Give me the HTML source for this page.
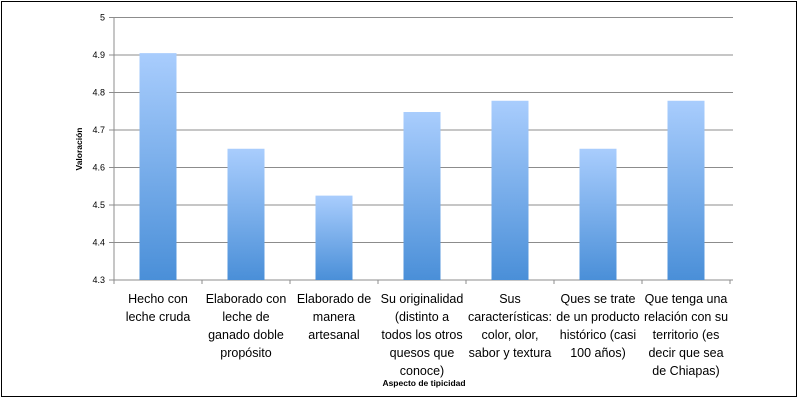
<!DOCTYPE html>
<html><head><meta charset="utf-8"><style>
body{margin:0;background:#fff;font-family:"Liberation Sans",sans-serif}
#wrap{position:relative;width:799px;height:402px;overflow:hidden}
.frame{position:absolute;left:1px;top:1px;width:794px;height:394px;border:1px solid #000}
</style></head><body>
<div id="wrap">
<div class="frame"></div>
<svg id="svg" width="799" height="402" style="position:absolute;left:0;top:0">
<defs><linearGradient id="g" x1="0" y1="0" x2="0" y2="1"><stop offset="0" stop-color="#a9cdfd"/><stop offset="1" stop-color="#4a8fd8"/></linearGradient></defs>
</svg>
</div>
<script>
const categories=[["Hecho con","leche cruda"],["Elaborado con","leche de","ganado doble","propósito"],["Elaborado de","manera","artesanal"],["Su originalidad","(distinto a","todos los otros","quesos que","conoce)"],["Sus","características:","color, olor,","sabor y textura"],["Ques se trate","de un producto","histórico (casi","100 años)"],["Que tenga una","relación con su","territorio (es","decir que sea","de Chiapas)"]];
const values=[4.905,4.65,4.525,4.748,4.778,4.65,4.778];
const yTicks=[4.3,4.4,4.5,4.6,4.7,4.8,4.9,5];
const yTickLabels=["4.3","4.4","4.5","4.6","4.7","4.8","4.9","5"];
const svg=document.getElementById('svg'),NS="http://www.w3.org/2000/svg";
const x0=114,cw=88,y0=280,y1=17.5,vmin=4.3,vmax=5;
const y=v=>y0-(v-vmin)/(vmax-vmin)*(y0-y1);
const xEnd=x0+cw*categories.length+3;
function mk(t,a){const e=document.createElementNS(NS,t);for(const k in a)e.setAttribute(k,a[k]);svg.appendChild(e);return e;}
yTicks.forEach((v,i)=>{
 const g=mk('line',{x1:x0-5,x2:i?xEnd:xEnd,y1:y(v),y2:y(v),stroke:i?'#8c8c8c':'#8c8c8c','stroke-width':1});
 
 
 const t=mk('text',{x:x0-9,y:y(v)+3,'text-anchor':'end','font-size':9,fill:'#000'});
 t.textContent=yTickLabels[i];
 
 
});
const ax=mk('line',{x1:x0,x2:x0,y1:y1,y2:y0,stroke:'#8c8c8c'});


for(let i=0;i<=categories.length;i++){
 const tk=mk('line',{x1:x0+cw*i,x2:x0+cw*i,y1:y0,y2:y0+4,stroke:'#8c8c8c'});
 
 
}
values.forEach((v,i)=>{
 const cx=x0+cw*(i+0.5);
 const r=mk('rect',{x:cx-18.5,y:y(v),width:37,height:y0-y(v),fill:'url(#g)'});
 
 
 const t=mk('text',{x:cx,'text-anchor':'middle','font-size':12.5,fill:'#000'});
 
 
 categories[i].forEach((l,j)=>{const s=document.createElementNS(NS,'tspan');s.setAttribute('x',cx);s.setAttribute('y',303+j*18);s.textContent=l;t.appendChild(s);});
});
const xt=mk('text',{x:424,y:386,'text-anchor':'middle','font-size':8.5,'font-weight':'bold'});
xt.textContent="Aspecto de tipicidad";


const yt=mk('text',{x:0,y:0,'text-anchor':'middle','font-size':8.5,'font-weight':'bold',transform:'translate(82,149) rotate(-90)'});
yt.textContent="Valoración";


</script>
</body></html>
